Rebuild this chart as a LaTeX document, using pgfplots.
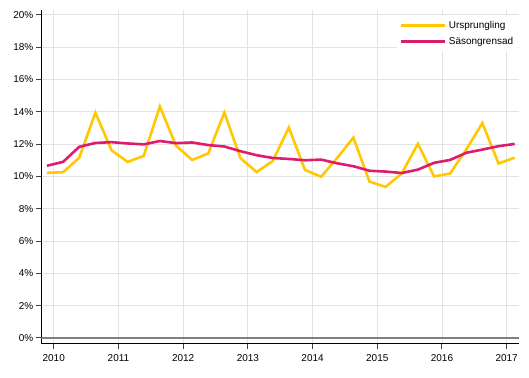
\documentclass[border=0pt]{standalone}
\usepackage{fontspec}
\setmainfont{Liberation Sans}
\usepackage{pgfplots}
\pgfplotsset{compat=1.18}
\definecolor{ursp}{HTML}{FFC800}
\definecolor{sas}{HTML}{DF1B6E}
\begin{document}
\begin{tikzpicture}
\path[use as bounding box] (-41.3bp,-34.7bp) rectangle (487.7bp,343.3bp);
\begin{axis}[
  at={(0,0)}, anchor=south west,
  scale only axis, width=478bp, height=333.3bp,
  xmin=2009.808, xmax=2017.195, ymin=-0.33, ymax=20.3,
  axis x line*=bottom, axis y line*=left,
  xtick={2010,2011,2012,2013,2014,2015,2016,2017},
  ytick={0,2,4,6,8,10,12,14,16,18,20},
  yticklabel={\pgfmathprintnumber{\tick}\%},
  x tick label style={/pgf/number format/1000 sep={}, yshift=-2bp},
  y tick label style={xshift=1bp},
  /pgf/number format/assume math mode=true,
  tick align=outside, major tick length=5.5bp,
  tick style={black!75, line width=1bp},
  grid=major, grid style={color=black!11, line width=0.9bp},
  axis line style={black, line width=0.9bp},
  ticklabel style={font=\fontsize{10}{12}\selectfont},
  legend style={at={(axis cs:2017.18,19.92)}, anchor=north east, draw=none, fill=white,
    font=\fontsize{10}{12}\selectfont, row sep=1bp, inner xsep=2bp, inner ysep=2bp,
    nodes={inner sep=3bp}},
  legend cell align=left,
  legend image code/.code={\draw[#1] (0bp,0bp) -- (44bp,0bp);},
]
\draw[black!50, line width=2bp] (axis cs:2009.808,0) -- (axis cs:2017.195,0);
\addplot[color=ursp, line width=2.6bp] table {
x y
2009.896 10.22
2010.145 10.26
2010.394 11.15
2010.644 13.95
2010.893 11.62
2011.142 10.90
2011.391 11.27
2011.640 14.33
2011.890 11.90
2012.139 11.02
2012.388 11.42
2012.637 13.95
2012.886 11.13
2013.136 10.27
2013.385 10.95
2013.634 13.03
2013.883 10.40
2014.132 9.98
2014.382 11.15
2014.631 12.40
2014.880 9.68
2015.129 9.35
2015.378 10.18
2015.628 12.02
2015.877 10.00
2016.126 10.18
2016.375 11.66
2016.624 13.30
2016.874 10.80
2017.123 11.16
};
\addlegendentry{Ursprungling}
\addplot[color=sas, line width=2.6bp] table {
x y
2009.896 10.66
2010.145 10.90
2010.394 11.83
2010.644 12.07
2010.893 12.12
2011.142 12.04
2011.391 11.98
2011.640 12.19
2011.890 12.06
2012.139 12.10
2012.388 11.94
2012.637 11.85
2012.886 11.56
2013.136 11.31
2013.385 11.14
2013.634 11.08
2013.883 11.00
2014.132 11.04
2014.382 10.81
2014.631 10.63
2014.880 10.35
2015.129 10.30
2015.378 10.21
2015.628 10.42
2015.877 10.84
2016.126 11.02
2016.375 11.46
2016.624 11.66
2016.874 11.87
2017.123 12.01
};
\addlegendentry{Säsongrensad}
\end{axis}
\end{tikzpicture}
\end{document}
